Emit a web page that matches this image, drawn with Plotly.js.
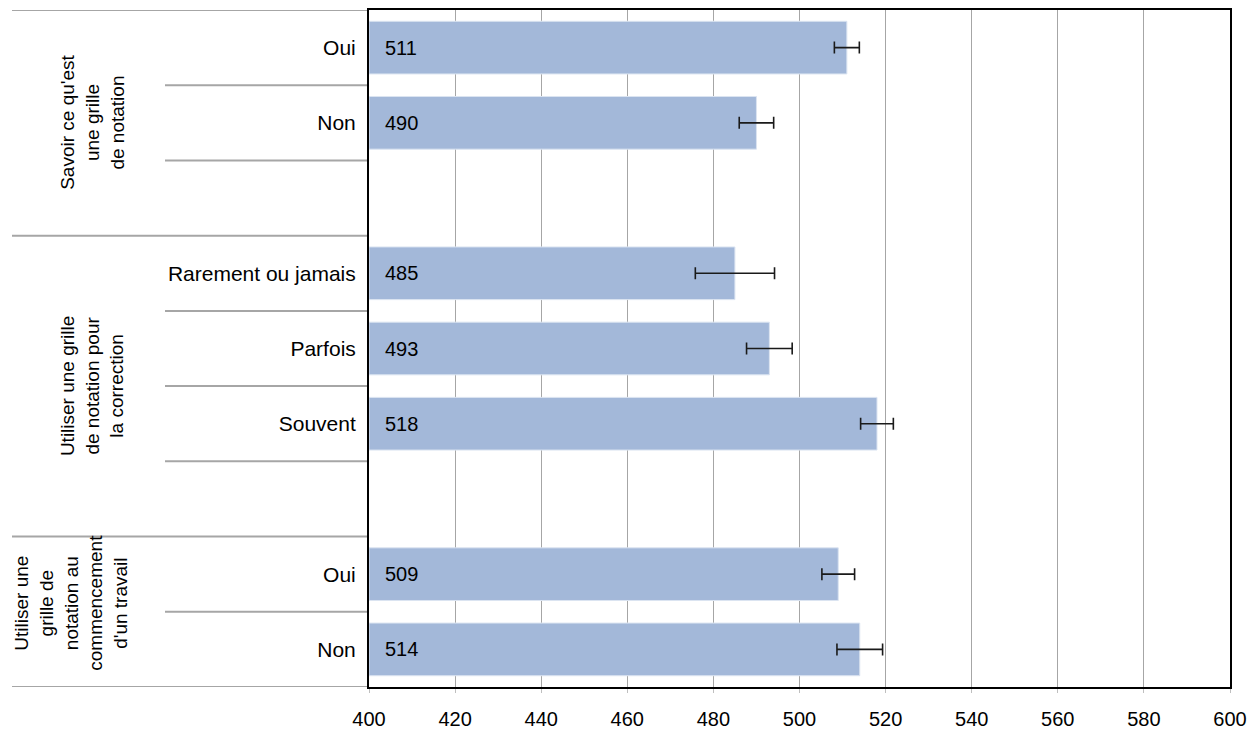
<!DOCTYPE html>
<html>
<head>
<meta charset="utf-8">
<script src="https://cdn.plot.ly/plotly-3.0.1.min.js"></script>
<style>html,body{margin:0;padding:0;background:#fff;}#chart{width:1256px;height:734px;}</style>
</head>
<body>
<div id="chart"></div>
<script>
// ---- data ----
const groupLabels = [
  "Savoir ce qu'est<br>une grille<br>de notation",
  "Utiliser une grille<br>de notation pour<br>la correction",
  "Utiliser une<br>grille de<br>notation au<br>commencement<br>d'un travail"
];
const categories = ["Oui", "Non", "Rarement ou jamais", "Parfois", "Souvent", "Oui", "Non"];
const groupOf = [0, 0, 1, 1, 1, 2, 2];
const values = [511, 490, 485, 493, 518, 509, 514];
const errors = [2.9, 4.0, 9.2, 5.3, 3.8, 3.8, 5.3];
const xTicks = [400, 420, 440, 460, 480, 500, 520, 540, 560, 580, 600];

// ---- slot positions (one empty slot between groups) ----
const pos = [];
const groupStart = [], groupEnd = [];
let slot = 0;
for (let i = 0; i < categories.length; i++) {
  const g = groupOf[i];
  if (i > 0 && g !== groupOf[i - 1]) slot += 1; // empty spacer slot
  if (groupStart[g] === undefined) groupStart[g] = slot;
  groupEnd[g] = slot;
  pos.push(slot);
  slot += 1;
}
const nSlots = slot;

const fontFam = "Arial, 'Liberation Sans', sans-serif";
const plotLeftPx = 369, plotRightPx = 1230;
const pw = plotRightPx - plotLeftPx;
const px2paper = p => (p - plotLeftPx) / pw;

const shapes = [];
const lineColor = '#a6a6a6';
// inner separators after each item
pos.forEach(p => {
  shapes.push({type: 'line', xref: 'paper', yref: 'y', x0: px2paper(165), x1: 0, y0: p + 0.5, y1: p + 0.5,
    line: {color: lineColor, width: 2}, layer: 'below'});
});
// group separators
const groupBounds = [-0.5];
groupEnd.forEach((e, g) => {
  groupBounds.push(g < groupEnd.length - 1 ? e + 1.5 : e + 0.5);
});
groupBounds.forEach(b => {
  shapes.push({type: 'line', xref: 'paper', yref: 'y', x0: px2paper(12), x1: 0, y0: b, y1: b,
    line: {color: lineColor, width: 2}, layer: 'below'});
});

const annotations = [];
// value labels
values.forEach((v, i) => {
  annotations.push({x: xTicks[0], y: pos[i], xref: 'x', yref: 'y', text: String(v), showarrow: false,
    xanchor: 'left', xshift: 14, font: {family: fontFam, size: 20, color: '#000'}});
});
// group labels
const groupLabelX = [92, 92, 71];
groupLabels.forEach((t, g) => {
  const lo = groupBounds[g], hi = groupBounds[g + 1];
  annotations.push({x: px2paper(groupLabelX[g]), y: (lo + hi) / 2 - (g === 2 ? 0.12 : 0), xref: 'paper', yref: 'y',
    xanchor: 'center', yanchor: 'middle',
    text: t, showarrow: false, textangle: -90, align: 'center',
    font: {family: fontFam, size: 19, color: '#000'}});
});

const trace = {
  type: 'bar', orientation: 'h',
  x: values.map(v => v - xTicks[0]), base: xTicks[0], y: pos,
  width: 0.7,
  marker: {color: '#a3b8d9', line: {color: '#dbe4f1', width: 1}},
  error_x: {type: 'data', array: errors, visible: true, color: '#1a1a1a', thickness: 1.6, width: 6},
  hoverinfo: 'skip'
};

const layout = {
  width: 1256, height: 734,
  margin: {l: plotLeftPx, r: 1256 - plotRightPx, t: 10, b: 47},
  paper_bgcolor: '#fff', plot_bgcolor: '#fff',
  showlegend: false,
  bargap: 0.3,
  xaxis: {
    range: [xTicks[0], xTicks[xTicks.length - 1]], tickvals: xTicks, ticktext: xTicks.map(String),
    showgrid: true, gridcolor: '#a6a6a6', gridwidth: 1,
    ticks: 'outside', ticklen: 4, tickcolor: '#bfbfbf', tickwidth: 1,
    ticklabelstandoff: 9,
    showline: true, linecolor: '#000', linewidth: 2, mirror: true,
    zeroline: false,
    tickfont: {family: fontFam, size: 20, color: '#000'}
  },
  yaxis: {
    range: [nSlots - 0.5, -0.5], tickvals: pos, ticktext: categories,
    showgrid: false, zeroline: false,
    ticks: 'outside', ticklen: 7, tickcolor: 'rgba(0,0,0,0)',
    showline: true, linecolor: '#000', linewidth: 2, mirror: true,
    tickfont: {family: fontFam, size: 21, color: '#000'}
  },
  shapes: shapes,
  annotations: annotations
};

Plotly.newPlot('chart', [trace], layout, {displayModeBar: false, staticPlot: true});
</script>
</body>
</html>
